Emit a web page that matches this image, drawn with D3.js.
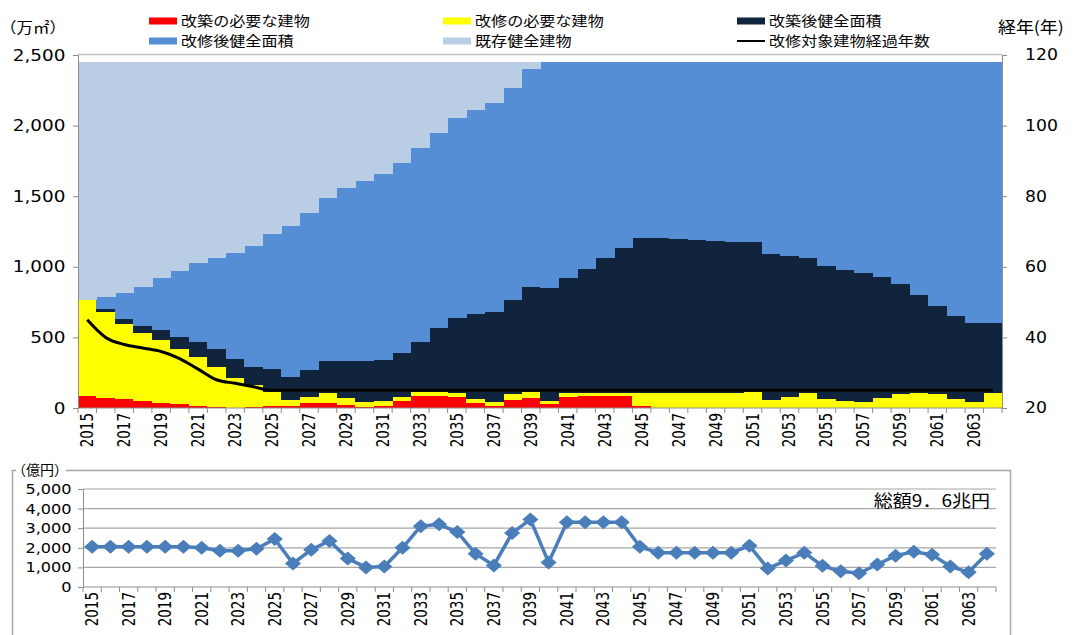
<!DOCTYPE html>
<html>
<head>
<meta charset="utf-8">
<script src="https://cdn.jsdelivr.net/npm/d3@7"></script>
<style>
	body { margin: 0; background: #fff; }
	svg { display: block; }
	text { font-family: "DejaVu Sans", sans-serif; fill: #000; }
	.jp { font-family: "Noto Sans CJK JP", sans-serif; }
	.yr { font-family: "Liberation Sans Narrow", "DejaVu Sans Condensed", sans-serif; font-size: 15px; }
</style>
</head>
<body>
<svg id="chart" width="1074" height="635"></svg>
<script>
// years on the x axis (both charts)
var years = [2015,2016,2017,2018,2019,2020,2021,2022,2023,2024,
	2025,2026,2027,2028,2029,2030,2031,2032,2033,2034,
	2035,2036,2037,2038,2039,2040,2041,2042,2043,2044,
	2045,2046,2047,2048,2049,2050,2051,2052,2053,2054,
	2055,2056,2057,2058,2059,2060,2061,2062,2063,2064];

// floor area, 万m2 (bottom to top)
var rebuildNeeded = [88,74,61,50,38,25,14,6,2,6,
	15,14,32,36,18,9,16,48,87,87,
	76,33,17,57,71,26,80,87,87,87,
	14,0,0,0,0,0,0,0,0,0,
	0,0,0,0,0,0,0,0,0,0];
var repairNeeded = [677,608,534,479,444,391,349,284,213,154,
	100,43,48,70,50,36,34,32,24,24,
	28,28,23,42,42,24,28,17,17,17,
	90,104,104,108,108,108,113,57,80,104,
	64,52,45,68,99,104,97,61,42,104];
var rebuiltSound = [0,17,35,54,70,89,107,126,130,128,
	159,165,189,227,265,288,290,312,359,453,
	536,602,642,666,742,800,810,880,956,1031,
	1102,1102,1091,1082,1077,1065,1060,1031,996,961,
	942,925,909,862,778,696,625,591,562,500];
var repairedSound = [0,89,187,276,371,465,555,649,755,862,
	956,1069,1110,1152,1227,1275,1315,1341,1369,1386,
	1416,1447,1476,1499,1544,1600,1532,1466,1390,1315,
	1244,1244,1255,1260,1265,1277,1277,1362,1374,1385,
	1444,1473,1496,1520,1573,1650,1728,1798,1846,1846];
var existingSound = [1685,1662,1633,1591,1527,1480,1425,1385,1350,1300,
	1220,1159,1071,965,890,842,795,717,611,500,
	394,340,292,186,51,0,0,0,0,0,
	0,0,0,0,0,0,0,0,0,0,
	0,0,0,0,0,0,0,0,0,0];

// elapsed years of buildings to be repaired (right axis)
var elapsedYears = [45,40,38,37,36,34,31,28,27,26,
	25,25,25,25,25,25,25,25,25,25,
	25,25,25,25,25,25,25,25,25,25,
	25,25,25,25,25,25,25,25,25,25,
	25,25,25,25,25,25,25,25,25,25];

// yearly cost, 億円 (lower chart)
var yearlyCost = [2050,2050,2050,2050,2050,2050,2000,1850,1850,1950,
	2450,1200,1900,2350,1450,1000,1050,2000,3100,3200,
	2800,1700,1100,2750,3450,1250,3300,3300,3300,3300,
	2050,1750,1750,1750,1750,1750,2100,950,1350,1750,
	1080,800,700,1150,1600,1800,1650,1050,750,1700];

var areaTicks = [0,500,1000,1500,2000,2500];
var ageTicks = [20,40,60,80,100,120];
var costTicks = [0,1000,2000,3000,4000,5000];

var seriesKeys = ["rebuildNeeded","repairNeeded","rebuiltSound","repairedSound","existingSound"];
var seriesNames = ["改築の必要な建物","改修の必要な建物","改築後健全面積","改修後健全面積","既存健全建物"];
var seriesColors = ["#ff0000","#ffff00","#10243e","#558ed5","#b9cde5"];
var lineName = "改修対象建物経過年数";

var svg = d3.select("#chart");
var axisGray = "#8c8c8c";
var stretchK = 1.15;

// text helper: the source picture is a bit wider than tall, so stretch text horizontally
function addText(parent, x, y, str, opts) {
	opts = opts || {};
	var g = parent.append("g").attr("transform", "translate(" + x + "," + y + ")");
	var t = g.append("text")
		.attr("class", opts.cls || null)
		.attr("text-anchor", opts.anchor || "start")
		.style("font-size", (opts.size || 14) + "px")
		.attr("transform", "scale(" + (opts.k || stretchK) + ",1)")
		.text(str);
	return t;
}

/* ---------- upper chart ---------- */
var x = d3.scaleBand().domain(years).range([78, 1002]).padding(0);
var yL = d3.scaleLinear().domain([0, 2500]).range([408, 55]);
var yR = d3.scaleLinear().domain([20, 120]).range([408, 55]);

var table = years.map(function(yr, i) {
	return {
		year: yr,
		rebuildNeeded: rebuildNeeded[i],
		repairNeeded: repairNeeded[i],
		rebuiltSound: rebuiltSound[i],
		repairedSound: repairedSound[i],
		existingSound: existingSound[i]
	};
});

var stacked = d3.stack().keys(seriesKeys)(table);

var layers = svg.append("g")
	.attr("shape-rendering", "crispEdges")
	.selectAll("g")
	.data(stacked)
	.enter().append("g")
	.attr("fill", function(d, i) { return seriesColors[i]; });

layers.selectAll("rect")
	.data(function(d) { return d; })
	.enter().append("rect")
	.attr("x", function(d) { return x(d.data.year); })
	.attr("width", x.bandwidth() + 0.6)
	.attr("y", function(d) { return yL(d[1]); })
	.attr("height", function(d) { return Math.max(0, yL(d[0]) - yL(d[1])); });

// elapsed years line
var ageLine = d3.line()
	.x(function(d, i) { return x(years[i]) + x.bandwidth() / 2; })
	.y(function(d) { return yR(d); })
	.curve(d3.curveMonotoneX);

svg.append("path")
	.datum(elapsedYears)
	.attr("d", ageLine)
	.attr("fill", "none")
	.attr("stroke", "#000")
	.attr("stroke-width", 3);

// frame top line
svg.append("line")
	.attr("x1", 78).attr("x2", 1002)
	.attr("y1", yL(2500) - 0.5).attr("y2", yL(2500) - 0.5)
	.attr("stroke", "#bfbfbf").attr("stroke-width", 1.5);

// left axis
var leftAxis = svg.append("g")
	.attr("transform", "translate(78,0)")
	.call(d3.axisLeft(yL).tickValues(areaTicks).tickFormat(d3.format(",")).tickSize(5).tickPadding(6));
leftAxis.selectAll("path, line").attr("stroke", axisGray);
leftAxis.selectAll("text")
	.style("font-size", "16px")
	.attr("transform", "scale(" + stretchK + ",1)");

// right axis
var rightAxis = svg.append("g")
	.attr("transform", "translate(1002,0)")
	.call(d3.axisRight(yR).tickValues(ageTicks).tickSize(5).tickPadding(15));
rightAxis.selectAll("path, line").attr("stroke", axisGray);
rightAxis.selectAll("text")
	.style("font-size", "15px")
	.attr("transform", "scale(" + stretchK + ",1)");

// bottom axis with ticks at the category boundaries
function yearAxis(g, scale, y0) {
	g.append("line")
		.attr("x1", scale.range()[0]).attr("x2", scale.range()[1])
		.attr("y1", y0).attr("y2", y0)
		.attr("stroke", axisGray);
	g.selectAll(".bt")
		.data(years.concat([null]))
		.enter().append("line")
		.attr("class", "bt")
		.attr("x1", function(d) { return d === null ? scale.range()[1] : scale(d); })
		.attr("x2", function(d) { return d === null ? scale.range()[1] : scale(d); })
		.attr("y1", y0).attr("y2", y0 + 5)
		.attr("stroke", axisGray);
	g.selectAll(".yl")
		.data(years.filter(function(d, i) { return i % 2 === 0; }))
		.enter().append("text")
		.attr("class", "yr")
		.attr("text-anchor", "end")
		.attr("transform", function(d) {
			return "translate(" + (scale(d) + scale.bandwidth() / 2 + 6) + "," + (y0 + 5) + ") rotate(-90) scale(1,1.2)";
		})
		.text(function(d) { return d; });
}
yearAxis(svg.append("g"), x, 408);

// unit labels
addText(svg, 0, 33, "（万㎡）", {cls: "jp", size: 15, k: 1.1});
addText(svg, 998, 33, "経年(年)", {cls: "jp", size: 16, k: 1.12});

// legend
var legendCols = [149, 443, 737];
var legendRows = [21, 41];
var legend = svg.append("g");
seriesNames.forEach(function(name, i) {
	var cx = legendCols[i % 3], cy = legendRows[Math.floor(i / 3)];
	legend.append("rect")
		.attr("x", cx).attr("y", cy - 3.5)
		.attr("width", 28).attr("height", 7)
		.attr("fill", seriesColors[i]);
	addText(legend, cx + 32, cy + 5, name, {cls: "jp", size: 14});
});
legend.append("line")
	.attr("x1", legendCols[2]).attr("x2", legendCols[2] + 28)
	.attr("y1", legendRows[1]).attr("y2", legendRows[1])
	.attr("stroke", "#000").attr("stroke-width", 2);
addText(legend, legendCols[2] + 32, legendRows[1] + 5, lineName, {cls: "jp", size: 14});

/* ---------- lower chart ---------- */
var xb = d3.scaleBand().domain(years).range([83, 996]).padding(0);
var yb = d3.scaleLinear().domain([0, 5000]).range([587, 489]);

// outer frame
svg.append("rect")
	.attr("x", 12.5).attr("y", 470.5)
	.attr("width", 998).attr("height", 200)
	.attr("fill", "none")
	.attr("stroke", "#a6a6a6").attr("stroke-width", 1.5);

// unit label sits over the frame
svg.append("rect").attr("x", 16).attr("y", 461).attr("width", 50).attr("height", 15).attr("fill", "#fff");
addText(svg, 12, 475, "（億円）", {cls: "jp", size: 14, k: 1.0});

// gridlines
svg.append("g").selectAll("line")
	.data(costTicks.filter(function(d) { return d > 0; }))
	.enter().append("line")
	.attr("x1", 83).attr("x2", 996)
	.attr("y1", function(d) { return yb(d); }).attr("y2", function(d) { return yb(d); })
	.attr("stroke", "#a6a6a6").attr("stroke-width", 1.2);

var costAxis = svg.append("g")
	.attr("transform", "translate(83,0)")
	.call(d3.axisLeft(yb).tickValues(costTicks).tickFormat(d3.format(",")).tickSize(5).tickPadding(5));
costAxis.selectAll("path, line").attr("stroke", axisGray);
costAxis.selectAll("text")
	.style("font-size", "14px")
	.attr("transform", "scale(" + stretchK + ",1)");

yearAxis(svg.append("g"), xb, 587);

var costLine = d3.line()
	.x(function(d, i) { return xb(years[i]) + xb.bandwidth() / 2; })
	.y(function(d) { return yb(d); });

svg.append("path")
	.datum(yearlyCost)
	.attr("d", costLine)
	.attr("fill", "none")
	.attr("stroke", "#4a7ebb")
	.attr("stroke-width", 3.5);

svg.append("g").selectAll("path")
	.data(yearlyCost)
	.enter().append("path")
	.attr("d", d3.symbol().type(d3.symbolDiamond2).size(125))
	.attr("transform", function(d, i) {
		return "translate(" + (xb(years[i]) + xb.bandwidth() / 2) + "," + yb(d) + ") scale(1.15,1)";
	})
	.attr("fill", "#4a7ebb");

addText(svg, 990, 507, "総額9．6兆円", {cls: "jp", size: 17, anchor: "end", k: 1.12});
</script>
</body>
</html>
